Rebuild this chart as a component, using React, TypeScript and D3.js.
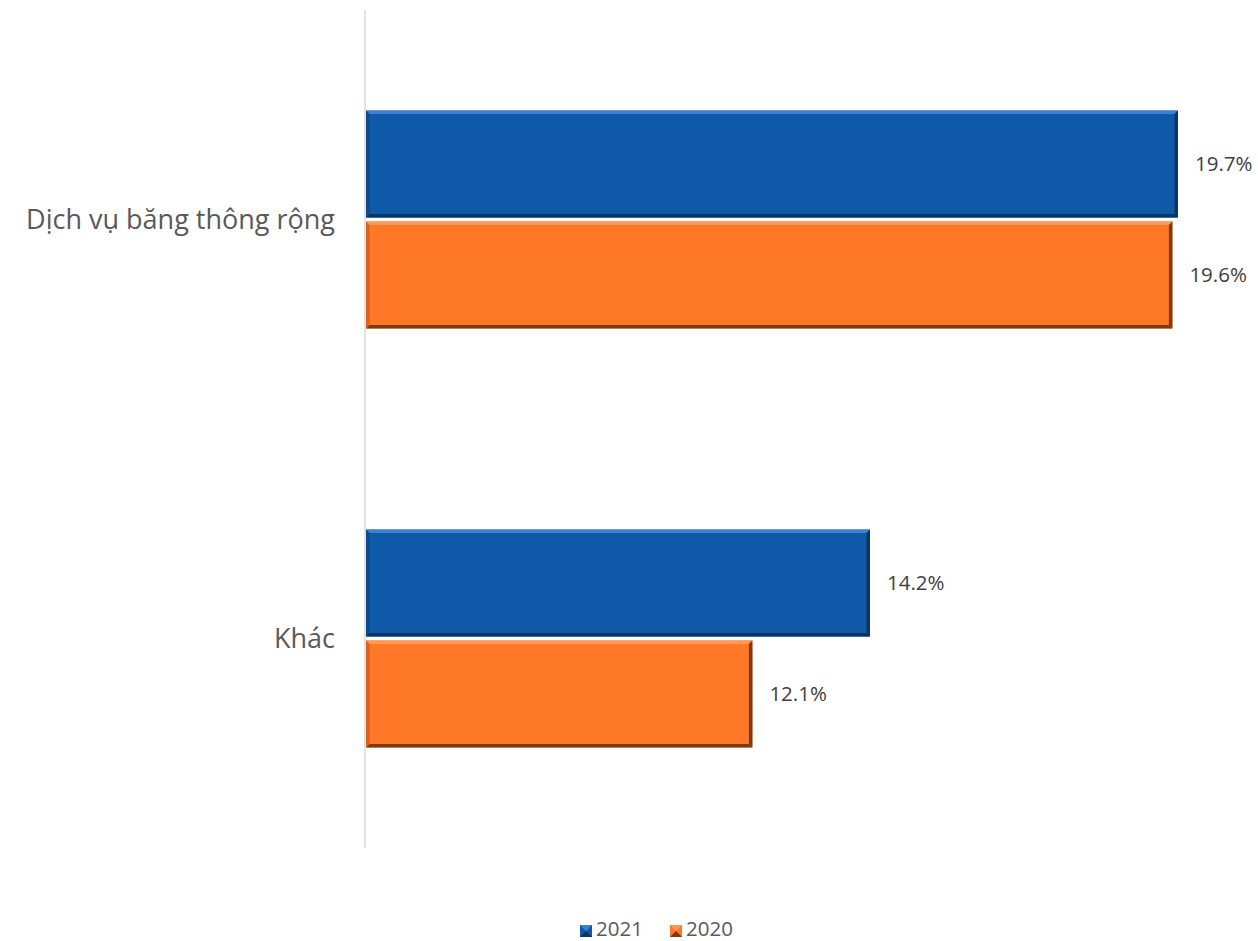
import React from "react";
import * as d3 from "d3";

const categories = ["Dịch vụ băng thông rộng", "Khác"];
const seriesNames = ["2021", "2020"];
const values2021 = [19.7, 14.2];
const values2020 = [19.6, 12.1];
const axisMin = 5.2;

const colors = ["#1058A8", "#FE7828"];
const lightEdge = ["#3D82D2", "#FF9A55"];
const darkEdge = ["#0A3463", "#7A3A12"];
const midEdge = ["#0C4A8E", "#D9621F"];

const W = 1258;
const H = 941;
const font = "'Open Sans', Lato, sans-serif";

export default function App() {
  const x = d3.scaleLinear().domain([axisMin, 19.7]).range([366, 1178]);
  const y = d3.scaleBand<string>().domain(categories).range([10, 848]).paddingInner(0.48).paddingOuter(0.24);
  const inner = d3.scaleBand<string>().domain(seriesNames).range([0, y.bandwidth()]).paddingInner(0.035);
  const series = [values2021, values2020];
  const b = 3.5;

  const bar = (cat: string, ci: number, si: number) => {
    const v = series[si][ci];
    const x0 = x(axisMin);
    const x1 = x(v);
    const y0 = (y(cat) as number) + (inner(seriesNames[si]) as number);
    const h = inner.bandwidth();
    const y1 = y0 + h;
    return (
      <g key={cat + si}>
        <rect x={x0} y={y0} width={x1 - x0} height={h} fill={colors[si]} />
        <polygon points={`${x0},${y0} ${x1},${y0} ${x1 - b},${y0 + b} ${x0 + b},${y0 + b}`} fill={lightEdge[si]} />
        <polygon points={`${x0},${y1} ${x1},${y1} ${x1 - b},${y1 - b} ${x0 + b},${y1 - b}`} fill={darkEdge[si]} />
        <polygon points={`${x1},${y0} ${x1},${y1} ${x1 - b},${y1 - b} ${x1 - b},${y0 + b}`} fill={darkEdge[si]} />
        <polygon points={`${x0},${y0} ${x0},${y1} ${x0 + b},${y1 - b} ${x0 + b},${y0 + b}`} fill={midEdge[si]} />
        <text x={x1 + 17} y={y0 + h / 2} dy="0.35em" fontSize={20.5} fill="#404040" fontFamily={font}>
          {v.toFixed(1)}%
        </text>
      </g>
    );
  };

  const legendItems = [
    { name: "2021", x: 580 },
    { name: "2020", x: 670 },
  ];

  return (
    <svg width={W} height={H} style={{ position: "absolute", left: 0, top: 0 }}>
      <rect width={W} height={H} fill="#fff" />
      <line x1={365} x2={365} y1={10} y2={848} stroke="#D9D9D9" strokeWidth={1.5} />
      {categories.map((c, ci) => (
        <g key={c}>
          {bar(c, ci, 0)}
          {bar(c, ci, 1)}
          <text x={335} y={(y(c) as number) + y.bandwidth() / 2} dy="0.35em" textAnchor="end" fontSize={27} fill="#595959" fontFamily={font}>
            {c}
          </text>
        </g>
      ))}
      {legendItems.map((it, i) => (
        <g key={it.name}>
          <rect x={it.x} y={925} width={12} height={12} fill={colors[i]} />
          <polygon points={`${it.x},925 ${it.x + 12},925 ${it.x + 6},931`} fill={lightEdge[i]} />
          <polygon points={`${it.x},937 ${it.x + 12},937 ${it.x + 6},931`} fill={darkEdge[i]} />
          <text x={it.x + 16} y={935.5} fontSize={20.5} fill="#595959" fontFamily={font}>
            {it.name}
          </text>
        </g>
      ))}
    </svg>
  );
}
